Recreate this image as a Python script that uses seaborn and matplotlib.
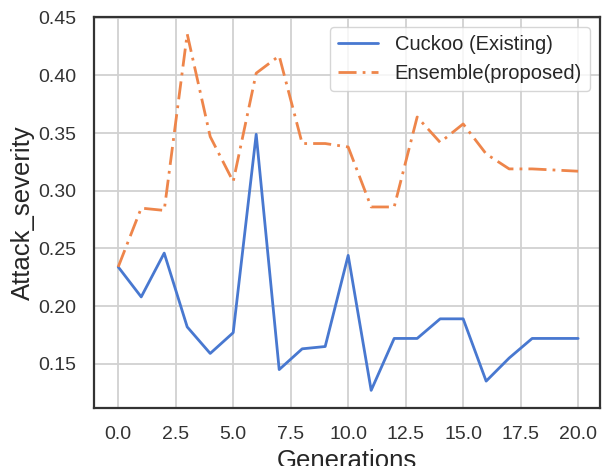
import matplotlib
matplotlib.use("Agg")
import matplotlib.pyplot as plt
import seaborn as sns
import pandas as pd

generations = list(range(21))
cuckoo = [0.234, 0.208, 0.246, 0.182, 0.159, 0.177, 0.349, 0.145, 0.163, 0.165,
          0.244, 0.127, 0.172, 0.172, 0.189, 0.189, 0.135, 0.155, 0.172, 0.172, 0.172]
ensemble = [0.234, 0.285, 0.283, 0.436, 0.347, 0.308, 0.402, 0.417, 0.341, 0.341,
            0.338, 0.286, 0.286, 0.364, 0.342, 0.358, 0.332, 0.319, 0.319, 0.318, 0.317]
series_names = ["Cuckoo (Existing)", "Ensemble(proposed)"]

sns.set_theme(style="whitegrid", palette="muted",
              rc={"axes.edgecolor": ".2", "axes.linewidth": 1.6,
                  "grid.color": ".82", "grid.linewidth": 1.3})
plt.rcParams["font.family"] = ["Liberation Sans", "DejaVu Sans"]

df = pd.DataFrame({"Generations": generations,
                   series_names[0]: cuckoo,
                   series_names[1]: ensemble})

fig, ax = plt.subplots(figsize=(6.03, 4.66), dpi=100)
fig.subplots_adjust(left=0.156, right=0.995, top=0.963, bottom=0.124)

colors = sns.color_palette("muted")
sns.lineplot(data=df, x="Generations", y=series_names[0], ax=ax,
             color=colors[0], linewidth=2.0, label=series_names[0])
sns.lineplot(data=df, x="Generations", y=series_names[1], ax=ax,
             color=colors[1], linewidth=2.0, label=series_names[1],
             linestyle=(0, (6.5, 2.2, 1, 2.2)))

ax.set_xticks([0, 2.5, 5, 7.5, 10, 12.5, 15, 17.5, 20])
ax.set_yticks([0.15, 0.20, 0.25, 0.30, 0.35, 0.40, 0.45])
ax.tick_params(labelsize=14, pad=7, colors=".2")
ax.set_xlabel("Generations", fontsize=18.5, labelpad=4)
ax.set_ylabel("Attack_severity", fontsize=18.5, labelpad=2)
ax.set_ylim(0.1115, 0.4505)
ax.set_xlim(-1.05, 20.95)
ax.legend(loc="upper right", fontsize=14.5, frameon=True)

fig.savefig("out.png", dpi=100)
